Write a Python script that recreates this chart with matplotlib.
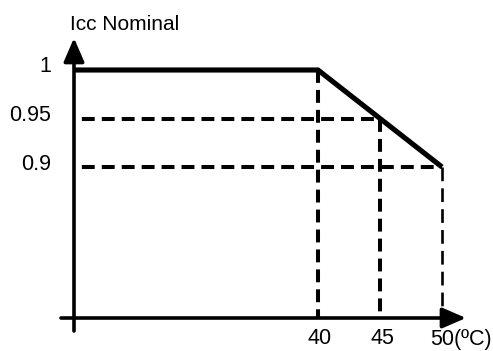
import matplotlib
matplotlib.use("Agg")
import matplotlib.pyplot as plt

# ---- data ----
temps = [40, 45, 50]                 # x tick values (ºC)
temp_labels = ["40", "45", "50(ºC)"]
icc_ticks = [1, 0.95, 0.9]
icc_labels = ["1", "0.95", "0.9"]
curve_t = [40, 50]                  # derating curve break points
curve_i = [1.0, 0.9]
y_title = "Icc Nominal"

# ---- layout (pixel based mapping) ----
W, H = 493, 351
px_deg = 12.4          # pixels per ºC
px_unit = 970.0        # pixels per unit of Icc
x_ref_px, x_ref = 318, 40
y_ref_px, y_ref = 70, 1.0

def dx(px):   # pixel x -> data x
    return x_ref + (px - x_ref_px) / px_deg

def dy(py):   # pixel y (from top) -> data y
    return y_ref - (py - y_ref_px) / px_unit

x_origin = dx(74)
y_origin = dy(318)

plt.rcParams['font.family'] = ['Liberation Sans', 'DejaVu Sans']
fig = plt.figure(figsize=(W / 100, H / 100), dpi=100)
ax = fig.add_axes([0, 0, 1, 1])
ax.set_xlim(dx(0), dx(W))
ax.set_ylim(dy(H), dy(0))
ax.axis('off')

# axes with arrows
arrow = dict(arrowstyle='-|>,head_length=0.6,head_width=0.26', lw=2.6,
             color='black', mutation_scale=24, shrinkA=0, shrinkB=0)
ax.annotate('', xy=(dx(466), y_origin), xytext=(dx(61), y_origin), arrowprops=arrow)
ax.annotate('', xy=(x_origin, dy(38)), xytext=(x_origin, dy(331)), arrowprops=arrow)

# dashed guide lines
lwd = 2.9
dash = (0, (3.2, 1.75))
curve_at = {40: 1.0, 45: 0.95, 50: 0.9}
for t in temps:
    v = curve_at[t]
    if t == 50:
        ax.plot([t, t], [v, y_origin], color='black', lw=1.9,
                linestyle=(0, (5.2, 2.7)), dash_capstyle='butt')
    else:
        ax.plot([t, t], [v, y_origin], color='black', lw=lwd,
                linestyle=dash, dash_capstyle='butt')
ax.plot([x_origin, 45], [0.95, 0.95], color='black', lw=lwd, linestyle=(3, (3.2, 1.75)),
        dash_capstyle='butt')
ax.plot([x_origin, 50], [0.9, 0.9], color='black', lw=lwd, linestyle=(3, (3.2, 1.75)),
        dash_capstyle='butt')

# main derating curve
ax.plot([x_origin] + curve_t, [curve_i[0]] + curve_i, color='black', lw=3.7,
        solid_joinstyle='miter', solid_capstyle='butt')

# tick labels
for v, lab in zip(icc_ticks, icc_labels):
    ax.text(dx(51), v + 3 / px_unit, lab, ha='right', va='center', fontsize=15.5)
for t, lab in zip(temps, temp_labels):
    if lab.startswith("50"):
        ax.text(dx(430), dy(339), lab, ha='left', va='center', fontsize=15.5)
    else:
        ax.text(t + 2 / px_deg, dy(339), lab, ha='center', va='center', fontsize=15.5)

ax.text(dx(70), dy(30), y_title, ha='left', va='baseline', fontsize=15)

fig.savefig('out.png', dpi=100)
